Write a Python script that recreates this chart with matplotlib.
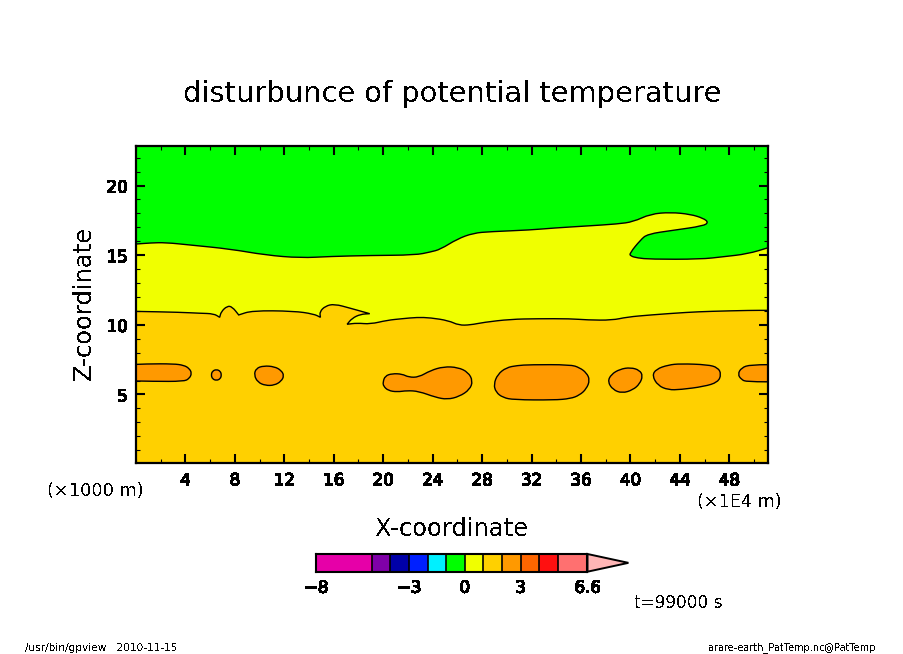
import matplotlib
matplotlib.use('Agg')
import matplotlib.pyplot as plt
from matplotlib.patches import PathPatch
from matplotlib.path import Path
from matplotlib.ticker import MultipleLocator
import matplotlib.patheffects as pe

plt.rcParams['font.family'] = 'DejaVu Sans'
plt.rcParams['text.antialiased'] = False

W, H = 904, 654

# contour between green and yellow (theta' = 0)
upper_x = [-1.0, 0.0, 1.17, 2.38, 4.40, 7.64, 10.47, 13.30, 15.73, 18.96, 22.6, 23.82, 24.63,
           25.98, 27.3, 28.67, 31.9, 33.77, 36.52, 38.95, 40.24, 41.62, 43.24, 44.85,
           45.9, 46.31, 45.9, 43.48, 41.38, 40.81, 39.94, 40.0, 40.57, 41.62, 45.67,
           47.52, 49.47, 51.17, 52.2]
upper_z = [15.74, 15.80, 15.88, 15.91, 15.73, 15.44, 15.01, 14.80, 14.91, 14.98, 15.01, 15.23, 15.42,
           16.16, 16.59, 16.69, 16.81, 16.95, 17.10, 17.24, 17.40, 17.96, 18.08, 17.94,
           17.65, 17.36, 17.10, 16.79, 16.52, 16.09, 15.14, 14.94, 14.80, 14.71, 14.71,
           14.89, 15.09, 15.54, 15.85]

# contour between yellow and light orange (theta' = 1), cusps listed twice
lower_x = [-1.0, 0.0, 3.59, 5.21, 6.29, 6.77, 6.77, 6.89, 7.37, 7.78, 8.31, 8.31, 9.39, 12.76, 14.38, 14.92, 14.92,
           14.86, 15.32, 16.05, 17.35, 18.91, 18.91, 18.16, 17.48, 17.08, 17.08, 17.89, 18.96, 20.32,
           21.53, 22.74, 23.82, 25.30, 26.11, 27.05, 28.13, 30.29, 32.45, 35.15, 36.50,
           38.52, 39.73, 41.62, 44.59, 46.47, 49.71, 51.17, 52.2]
lower_z = [10.97, 10.97, 10.90, 10.83, 10.80, 10.54, 10.54, 10.94, 11.35, 11.30, 10.71, 10.71, 11.02, 10.99, 10.78, 10.54, 10.54,
           10.94, 11.35, 11.50, 11.19, 10.80, 10.80, 10.76, 10.47, 10.04, 10.04, 10.13, 10.05, 10.33,
           10.44, 10.54, 10.51, 10.30, 9.97, 9.99, 10.18, 10.40, 10.44, 10.44, 10.35,
           10.33, 10.56, 10.71, 10.90, 10.97, 11.04, 11.04, 11.04]

# closed contours of the orange cells (theta' = 2)
blob1_x = [-1.5, 0.89, 3.05, 3.86, 4.30, 4.52, 4.30, 3.86, 1.43, -1.5]
blob1_z = [7.10, 7.20, 7.20, 7.10, 6.88, 6.52, 6.13, 5.94, 5.94, 6.00]
blob2_x = [6.08, 6.18, 6.50, 6.82, 6.92, 6.82, 6.50, 6.18]
blob2_z = [6.40, 6.68, 6.80, 6.68, 6.40, 6.12, 6.00, 6.12]
blob3_x = [9.55, 9.72, 10.33, 11.20, 11.75, 11.98, 11.75, 11.20, 10.47, 9.85]
blob3_z = [6.40, 6.88, 7.06, 7.00, 6.73, 6.35, 5.95, 5.66, 5.64, 5.88]
blob4_x = [19.98, 20.15, 20.72, 21.53, 22.06, 22.87, 23.82, 24.89, 26.04, 26.87, 27.25,
           27.00, 26.15, 25.17, 24.22, 22.87, 21.93, 21.12, 20.40, 20.02]
blob4_z = [5.88, 6.33, 6.50, 6.47, 6.24, 6.24, 6.72, 7.00, 6.95, 6.60, 5.97,
           5.35, 4.85, 4.64, 4.80, 5.23, 5.28, 5.18, 5.28, 5.60]
blob5_x = [28.94, 29.26, 29.96, 30.83, 31.91, 35.15, 35.88, 36.44, 36.72, 36.44, 35.88,
           35.15, 33.80, 30.56, 29.68, 29.12]
blob5_z = [5.73, 6.45, 6.93, 7.08, 7.14, 7.14, 6.93, 6.56, 6.04, 5.40, 4.95,
           4.70, 4.60, 4.62, 4.78, 5.16]
blob6_x = [38.16, 38.44, 39.15, 40.02, 40.75, 41.00, 40.75, 40.20, 39.33, 38.58]
blob6_z = [5.92, 6.44, 6.82, 6.94, 6.74, 6.33, 5.76, 5.33, 5.09, 5.34]
blob7_x = [41.76, 42.08, 43.06, 44.05, 46.25, 47.08, 47.35, 47.08, 45.95, 44.05, 43.06, 42.22]
blob7_z = [6.35, 6.82, 7.12, 7.21, 7.14, 6.93, 6.45, 5.88, 5.57, 5.35, 5.33, 5.64]
blob8_x = [52.5, 49.71, 48.98, 48.68, 48.98, 49.40, 52.5]
blob8_z = [7.14, 7.14, 6.92, 6.45, 6.07, 5.91, 5.91]

blobs = [(blob1_x, blob1_z), (blob2_x, blob2_z), (blob3_x, blob3_z), (blob4_x, blob4_z),
         (blob5_x, blob5_z), (blob6_x, blob6_z), (blob7_x, blob7_z), (blob8_x, blob8_z)]

x_major = [4, 8, 12, 16, 20, 24, 28, 32, 36, 40, 44, 48]
z_major = [5, 10, 15, 20]

# colour bar
levels = [-8, -5, -4, -3, -2, -1, 0, 1, 2, 3, 4, 5, 6.6]
level_colors = ['#E600A8', '#7F00A8', '#0000A8', '#0020FF', '#00F0FF', '#00FF00', '#F0FF00',
                '#FFD000', '#FF9900', '#FF6600', '#FF1010', '#FF7070']
over_color = '#FFB6B6'
over_tip = 8.8
cbar_ticks = [-8, -3, 0, 3, 6.6]
cbar_labels = ['\u22128', '\u22123', '0', '3', '6.6']

GREEN = '#00FF00'
YELLOW = '#F0FF00'
LIGHT_ORANGE = '#FFD000'
ORANGE = '#FF9900'

xmin, xmax = 0.0, 51.13
zmin, zmax = 0.08, 22.84


def open_curve(xs, zs):
    """Vertices and codes of a quadratic spline with the read points as control points."""
    pts = list(zip(xs, zs))
    verts = [pts[0]]
    codes = [Path.MOVETO]
    for i in range(1, len(pts) - 1):
        a, b = pts[i], pts[i + 1]
        verts += [a, ((a[0] + b[0]) / 2, (a[1] + b[1]) / 2)]
        codes += [Path.CURVE3, Path.CURVE3]
    verts.append(pts[-1])
    codes.append(Path.LINETO)
    return verts, codes


def closed_curve(xs, zs):
    pts = list(zip(xs, zs))
    mid = lambda a, b: ((a[0] + b[0]) / 2, (a[1] + b[1]) / 2)
    verts = [mid(pts[-1], pts[0])]
    codes = [Path.MOVETO]
    for i in range(len(pts)):
        verts += [pts[i], mid(pts[i], pts[(i + 1) % len(pts)])]
        codes += [Path.CURVE3, Path.CURVE3]
    return Path(verts, codes)


def region_above(ax, xs, zs, color):
    verts, codes = open_curve(xs, zs)
    top = zmax + 1
    verts = verts + [(xs[-1], top), (xs[0], top), (xs[0], zs[0])]
    codes = codes + [Path.LINETO, Path.LINETO, Path.CLOSEPOLY]
    ax.add_patch(PathPatch(Path(verts, codes), facecolor=color, lw=0))
    verts, codes = open_curve(xs, zs)
    ax.add_patch(PathPatch(Path(verts, codes), facecolor='none', edgecolor='k', lw=1.0, zorder=3))


fig = plt.figure(figsize=(W / 100, H / 100), dpi=100, facecolor='white')
ax = fig.add_axes([136 / W, 1 - 463 / H, 632 / W, 317 / H])
ax.set_facecolor(LIGHT_ORANGE)

region_above(ax, lower_x, lower_z, YELLOW)
region_above(ax, upper_x, upper_z, GREEN)
for bx, bz in blobs:
    ax.add_patch(PathPatch(closed_curve(bx, bz), facecolor=ORANGE, edgecolor='k', lw=1.0, zorder=3))

ax.set_xlim(xmin, xmax)
ax.set_ylim(zmin, zmax)
ax.set_xticks(x_major)
ax.set_yticks(z_major)
ax.xaxis.set_minor_locator(MultipleLocator(2))
ax.yaxis.set_minor_locator(MultipleLocator(1))
ax.tick_params(which='major', direction='in', length=6.5, width=1.5, top=True, right=True,
               labelsize=12, pad=6)
ax.tick_params(which='minor', direction='in', length=3.2, width=0.8, top=True, right=True)
for s in ax.spines.values():
    s.set_linewidth(1.6)
    s.set_zorder(5)

# colour bar, with the over triangle hanging outside the axes
cax = fig.add_axes([316 / W, 1 - 571.7 / H, 271.5 / W, 17.7 / H])
for i, c in enumerate(level_colors):
    cax.axvspan(levels[i], levels[i + 1], color=c, lw=0)
    cax.axvline(levels[i + 1], color='k', lw=1.2)
cax.fill([levels[-1], over_tip, levels[-1]], [0, 0.5, 1], facecolor=over_color, edgecolor='k',
         lw=1.4, clip_on=False)
cax.set_xlim(levels[0], levels[-1])
cax.set_ylim(0, 1)
cax.set_yticks([])
cax.set_xticks(cbar_ticks)
cax.set_xticklabels(cbar_labels)
cax.tick_params(axis='x', length=0, labelsize=12, pad=5)
for s in cax.spines.values():
    s.set_linewidth(1.5)

# tick numbers are heavier in the original
heavy = [pe.withStroke(linewidth=0.2, foreground='k')]
for t in ax.get_xticklabels() + ax.get_yticklabels() + cax.get_xticklabels():
    t.set_path_effects(heavy)


def label(x, y, s, **kw):
    fig.text(x / W, 1 - y / H, s, ha=kw.pop('ha', 'center'), va=kw.pop('va', 'center'), **kw)


label(452.5, 94, 'disturbunce of potential temperature', fontsize=20.8)
label(452, 529, 'X-coordinate', fontsize=17.4)
label(84, 303, 'Z-coordinate', fontsize=17.4, rotation=90)
label(95.5, 490.5, '(\u00d71000 m)', fontsize=12.8)
label(739, 502, '(\u00d71E4 m)', fontsize=12.7)
label(678, 603, 't=99000 s', fontsize=12.2)
label(25, 648, '/usr/bin/gpview   2010-11-15', fontsize=7.6, ha='left')
label(876, 648, 'arare-earth_PatTemp.nc@PatTemp', fontsize=7.0, ha='right')

fig.savefig('out.png', dpi=100)
